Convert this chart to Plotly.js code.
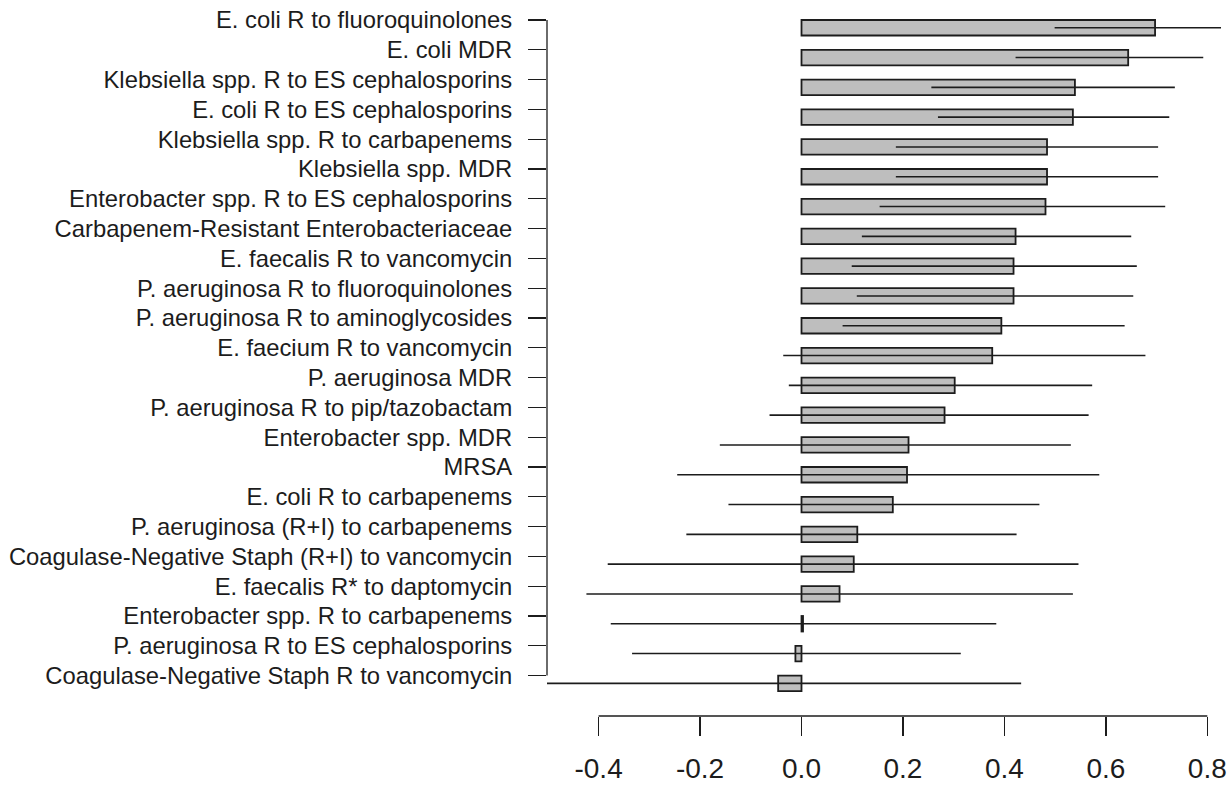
<!DOCTYPE html>
<html>
<head>
<meta charset="utf-8">
<script src="https://cdn.plot.ly/plotly-3.0.1.min.js"></script>
<style>html,body{margin:0;padding:0;background:#fff;}#chart{width:1229px;height:785px;}</style>
</head>
<body>
<div id="chart"></div>
<script>
// Categories, top to bottom
const categories = [
  "E. coli R to fluoroquinolones",
  "E. coli MDR",
  "Klebsiella spp. R to ES cephalosporins",
  "E. coli R to ES cephalosporins",
  "Klebsiella spp. R to carbapenems",
  "Klebsiella spp. MDR",
  "Enterobacter spp. R to ES cephalosporins",
  "Carbapenem-Resistant Enterobacteriaceae",
  "E. faecalis R to vancomycin",
  "P. aeruginosa R to fluoroquinolones",
  "P. aeruginosa R to aminoglycosides",
  "E. faecium R to vancomycin",
  "P. aeruginosa MDR",
  "P. aeruginosa R to pip/tazobactam",
  "Enterobacter spp. MDR",
  "MRSA",
  "E. coli R to carbapenems",
  "P. aeruginosa (R+I) to carbapenems",
  "Coagulase-Negative Staph (R+I) to vancomycin",
  "E. faecalis R* to daptomycin",
  "Enterobacter spp. R to carbapenems",
  "P. aeruginosa R to ES cephalosporins",
  "Coagulase-Negative Staph R to vancomycin"
];
// Point estimates
const estimate = [0.697, 0.644, 0.539, 0.535, 0.484, 0.484, 0.481, 0.422, 0.418, 0.418, 0.394, 0.376,
  0.302, 0.282, 0.211, 0.208, 0.180, 0.110, 0.103, 0.075, 0.003, -0.012, -0.046];
// Lower confidence limits
const lower = [0.499, 0.422, 0.256, 0.269, 0.186, 0.186, 0.154, 0.119, 0.099, 0.109, 0.081, -0.036,
  -0.025, -0.063, -0.161, -0.245, -0.144, -0.227, -0.382, -0.424, -0.376, -0.334, -0.502];
// Upper confidence limits
const upper = [0.827, 0.792, 0.736, 0.725, 0.703, 0.703, 0.717, 0.650, 0.661, 0.654, 0.637, 0.678,
  0.573, 0.566, 0.531, 0.587, 0.469, 0.424, 0.546, 0.535, 0.384, 0.314, 0.433];
// X axis ticks
const xTickVals = [-0.4, -0.2, 0.0, 0.2, 0.4, 0.6, 0.8];
const xTickLabels = ["-0.4", "-0.2", "0.0", "0.2", "0.4", "0.6", "0.8"];

const positions = categories.map((c, i) => i);
const tickOffset = 0.26;
const yTickVals = positions.map(p => p - tickOffset);

const ink = "#1c1c1c";
const fontFam = "Liberation Sans, Arial, Helvetica, sans-serif";

const trace = {
  type: "bar",
  orientation: "h",
  y: positions,
  x: estimate,
  width: 0.52,
  marker: { color: "#bebebe", line: { color: ink, width: 1.8 } },
  error_x: {
    type: "data",
    symmetric: false,
    array: estimate.map((v, i) => upper[i] - v),
    arrayminus: estimate.map((v, i) => v - lower[i]),
    width: 0,
    thickness: 1.6,
    color: ink
  },
  cliponaxis: false,
  hoverinfo: "skip"
};

const layout = {
  width: 1229,
  height: 785,
  margin: { l: 547, r: 2, t: 5, b: 69 },
  paper_bgcolor: "#fff",
  plot_bgcolor: "#fff",
  showlegend: false,
  font: { family: fontFam, color: ink },
  xaxis: {
    range: [-0.5017, 0.8388],
    tickmode: "array",
    tickvals: xTickVals,
    ticktext: xTickLabels,
    ticks: "outside",
    ticklen: 19,
    tickwidth: 1.3,
    tickcolor: ink,
    ticklabelstandoff: 8,
    showgrid: false,
    zeroline: false,
    showline: false,
    tickfont: { size: 28, family: fontFam, color: ink }
  },
  yaxis: {
    range: [23.096, -0.763],
    tickmode: "array",
    tickvals: yTickVals,
    ticktext: categories,
    ticks: "outside",
    ticklen: 18,
    tickwidth: 1.3,
    tickcolor: ink,
    ticklabelstandoff: 11,
    showgrid: false,
    zeroline: false,
    showline: false,
    tickfont: { size: 23.8, family: fontFam, color: ink }
  },
  shapes: [
    { type: "line", xref: "paper", yref: "y", x0: 0, x1: 0,
      y0: yTickVals[0], y1: yTickVals[yTickVals.length - 1],
      line: { color: ink, width: 1.3 } },
    { type: "line", xref: "x", yref: "paper",
      x0: xTickVals[0], x1: xTickVals[xTickVals.length - 1], y0: 0, y1: 0,
      line: { color: ink, width: 1.3 } }
  ]
};

Plotly.newPlot("chart", [trace], layout, { displayModeBar: false, staticPlot: true });
</script>
</body>
</html>
